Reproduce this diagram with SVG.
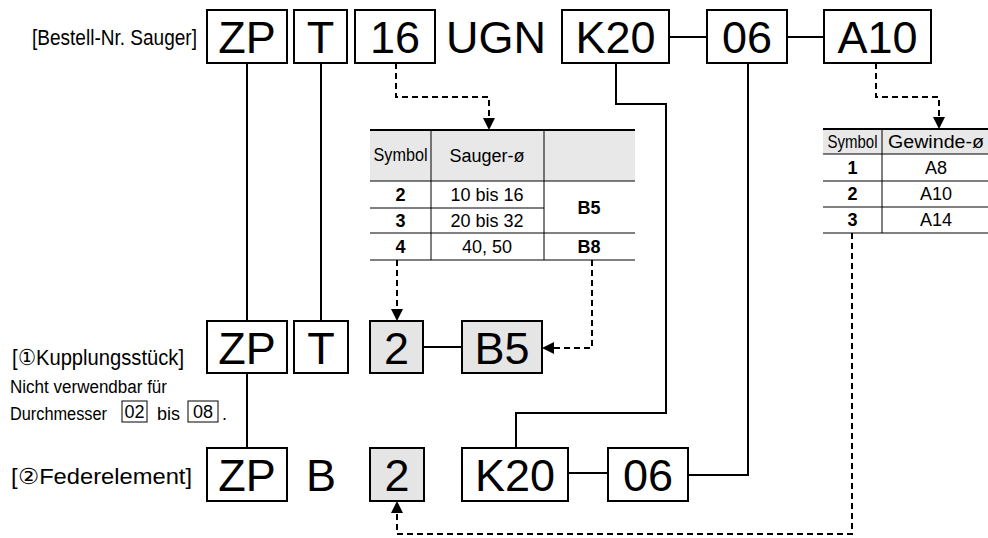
<svg xmlns="http://www.w3.org/2000/svg" width="988" height="538" viewBox="0 0 988 538">
<defs>
<style>
.box{fill:#fff;stroke:#000;stroke-width:2}
.gbox{fill:#e5e5e5;stroke:#000;stroke-width:2}
.big{font-family:"Liberation Sans",Arial,sans-serif;font-size:45px;fill:#000;text-anchor:middle}
.lbl{font-family:"Liberation Sans",Arial,sans-serif;font-size:22px;fill:#000}
.note{font-family:"Liberation Sans",Arial,sans-serif;font-size:18px;fill:#000}
.tt{font-family:"Liberation Sans",Arial,sans-serif;font-size:18px;fill:#000;text-anchor:middle}
.tb{font-family:"Liberation Sans",Arial,sans-serif;font-size:18px;font-weight:bold;fill:#000;text-anchor:middle}
.solid{fill:none;stroke:#000;stroke-width:2}
.dash{fill:none;stroke:#000;stroke-width:2;stroke-dasharray:6 4}
.tl{stroke:#000;stroke-width:1}
.tl2{stroke:#000;stroke-width:2}
.sbox{fill:#fff;stroke:#000;stroke-width:1}
</style>
<marker id="ah" markerWidth="12" markerHeight="12" refX="11" refY="6" orient="auto" markerUnits="userSpaceOnUse">
<path d="M0,0 L12,6 L0,12 Z" fill="#000"/>
</marker>
</defs>
<rect width="988" height="538" fill="#fff"/>

<g id="connectors">
<path class="solid" d="M247,63 V321 M247,373 V448"/>
<path class="solid" d="M321,63 V321"/>
<path class="solid" d="M616,63 V104 H666 V413 H516 V448"/>
<path class="solid" d="M748,63 V475 H688"/>
<path class="solid" d="M669,37 H707 M787,37 H824"/>
<path class="solid" d="M423,347 H462"/>
<path class="solid" d="M568,473 H608"/>
<path class="dash" d="M396,63 V97 H489 V129" marker-end="url(#ah)"/>
<path class="dash" d="M876,63 V97 H939 V128" marker-end="url(#ah)"/>
<path class="dash" d="M397,260 V320" marker-end="url(#ah)"/>
<path class="dash" d="M592,260 V348 H543" marker-end="url(#ah)"/>
<path class="dash" d="M852,233 V534 H397 V502" marker-end="url(#ah)"/>
</g>

<g id="label-bestell"><text class="lbl" x="32" y="45" font-size="20" textLength="165" lengthAdjust="spacingAndGlyphs">[Bestell-Nr. Sauger]</text></g>
<g id="top-ZP"><rect class="box" x="207" y="10" width="80" height="53"/><text class="big" x="247" y="53">ZP</text></g>
<g id="top-T"><rect class="box" x="294" y="10" width="53" height="53"/><text class="big" x="320.5" y="53">T</text></g>
<g id="top-16"><rect class="box" x="355" y="10" width="80" height="53"/><text class="big" x="395" y="53">16</text></g>
<g id="top-UGN"><text class="big" x="496" y="53">UGN</text></g>
<g id="top-K20"><rect class="box" x="562" y="10" width="107" height="53"/><text class="big" x="615.5" y="53">K20</text></g>
<g id="top-06"><rect class="box" x="707" y="10" width="80" height="53"/><text class="big" x="747" y="53">06</text></g>
<g id="top-A10"><rect class="box" x="824" y="10" width="107" height="53"/><text class="big" x="877.5" y="53">A10</text></g>

<g id="table-sauger">
<rect x="370" y="130" width="265" height="51" fill="#e8e8e8"/>
<line class="tl2" x1="370" y1="130" x2="635" y2="130"/>
<line class="tl" x1="370" y1="181" x2="635" y2="181"/>
<line class="tl" x1="370" y1="208" x2="544" y2="208"/>
<line class="tl" x1="370" y1="233" x2="635" y2="233"/>
<line class="tl" x1="370" y1="260" x2="635" y2="260"/>
<line class="tl" x1="431" y1="130" x2="431" y2="260"/>
<line class="tl" x1="544" y1="130" x2="544" y2="260"/>
<text class="tt" x="400.5" y="161" font-size="17" textLength="54" lengthAdjust="spacingAndGlyphs">Symbol</text>
<text class="tt" x="487" y="162" font-size="19">Sauger-ø</text>
<text class="tb" x="400.5" y="201">2</text>
<text class="tt" x="487" y="201">10 bis 16</text>
<text class="tb" x="400.5" y="227">3</text>
<text class="tt" x="487" y="227">20 bis 32</text>
<text class="tb" x="589" y="214">B5</text>
<text class="tb" x="400.5" y="253">4</text>
<text class="tt" x="487" y="253">40, 50</text>
<text class="tb" x="589" y="253">B8</text>
</g>

<g id="table-gewinde">
<rect x="823" y="129" width="165" height="25" fill="#e8e8e8"/>
<line class="tl2" x1="823" y1="129" x2="988" y2="129"/>
<line class="tl" x1="823" y1="154" x2="988" y2="154"/>
<line class="tl" x1="823" y1="181" x2="988" y2="181"/>
<line class="tl" x1="823" y1="207" x2="988" y2="207"/>
<line class="tl" x1="823" y1="233" x2="988" y2="233"/>
<line class="tl" x1="882" y1="129" x2="882" y2="233"/>
<text class="tt" x="852.5" y="148" font-size="16" textLength="50" lengthAdjust="spacingAndGlyphs">Symbol</text>
<text class="tt" x="936" y="148" font-size="18" textLength="96" lengthAdjust="spacingAndGlyphs">Gewinde-ø</text>
<text class="tb" x="852.5" y="174" font-size="17">1</text>
<text class="tt" x="936" y="174" font-size="17">A8</text>
<text class="tb" x="852.5" y="200" font-size="17">2</text>
<text class="tt" x="936" y="200" font-size="17">A10</text>
<text class="tb" x="852.5" y="226" font-size="17">3</text>
<text class="tt" x="936" y="226" font-size="17">A14</text>
</g>

<g id="label-kupplung">
<text class="lbl" x="12" y="365" textLength="172" lengthAdjust="spacingAndGlyphs">[①Kupplungsstück]</text>
<text class="note" x="10" y="393" textLength="157" lengthAdjust="spacingAndGlyphs">Nicht verwendbar für</text>
<text class="note" x="10" y="420" textLength="97" lengthAdjust="spacingAndGlyphs">Durchmesser</text>
<rect class="sbox" x="122" y="401" width="25" height="21"/>
<text class="note" x="134.5" y="418" text-anchor="middle" font-size="16">02</text>
<text class="note" x="157" y="420">bis</text>
<rect class="sbox" x="188" y="401" width="30" height="21"/>
<text class="note" x="203" y="418" text-anchor="middle" font-size="16">08</text>
<text class="note" x="222" y="420">.</text>
</g>
<g id="mid-ZP"><rect class="box" x="207" y="321" width="80" height="52"/><text class="big" x="247" y="364">ZP</text></g>
<g id="mid-T"><rect class="box" x="294" y="321" width="54" height="52"/><text class="big" x="321" y="364">T</text></g>
<g id="mid-2"><rect class="gbox" x="370" y="321" width="53" height="52"/><text class="big" x="396.5" y="364">2</text></g>
<g id="mid-B5"><rect class="gbox" x="462" y="321" width="80" height="52"/><text class="big" x="502" y="364">B5</text></g>

<g id="label-feder"><text class="lbl" x="11" y="484" textLength="181" lengthAdjust="spacingAndGlyphs">[②Federelement]</text></g>
<g id="bot-ZP"><rect class="box" x="207" y="448" width="80" height="53"/><text class="big" x="247" y="491">ZP</text></g>
<g id="bot-B"><text class="big" x="321" y="491">B</text></g>
<g id="bot-2"><rect class="gbox" x="370" y="448" width="54" height="53"/><text class="big" x="397" y="491">2</text></g>
<g id="bot-K20"><rect class="box" x="462" y="448" width="106" height="53"/><text class="big" x="515" y="491">K20</text></g>
<g id="bot-06"><rect class="box" x="608" y="448" width="80" height="53"/><text class="big" x="648" y="491">06</text></g>
</svg>
